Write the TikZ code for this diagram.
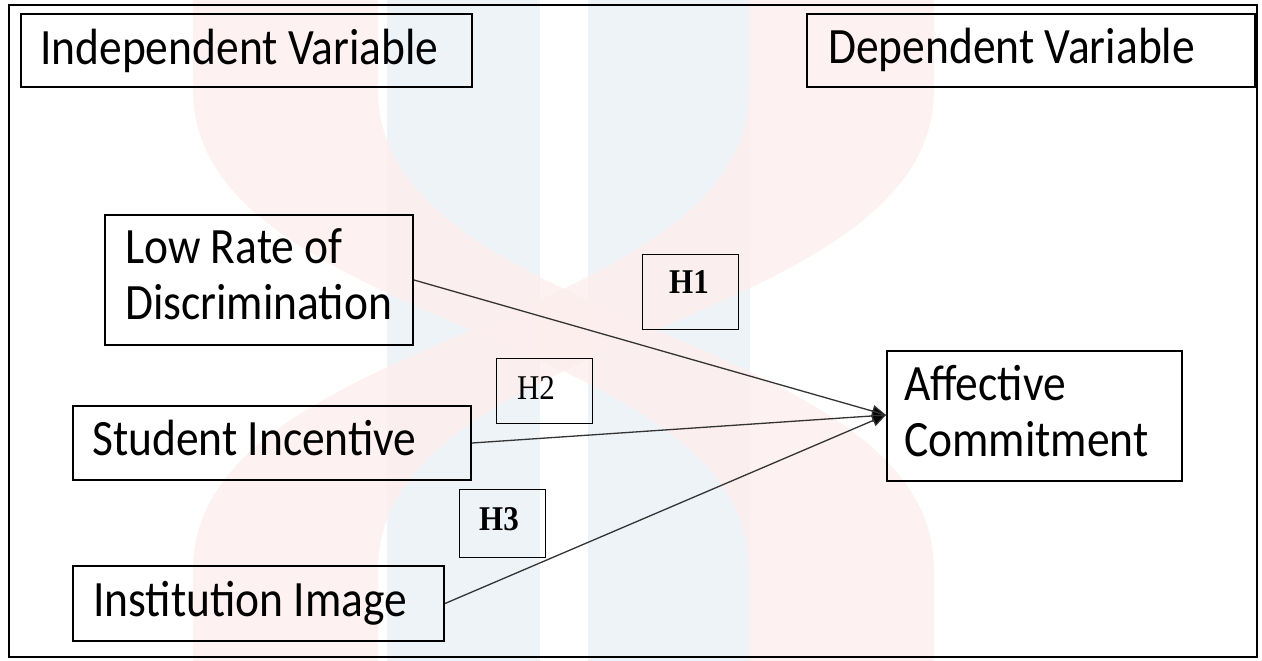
\documentclass[tikz,border=0pt]{standalone}
\usepackage{graphicx}
\usepackage{fontspec}
\setmainfont{Carlito}
\newfontfamily\timesfont{Liberation Serif}
\usetikzlibrary{arrows.meta}
\definecolor{wmpink}{HTML}{FDEEEE}
\definecolor{wmblue}{HTML}{EEF3F8}
\newcommand{\tallt}[1]{\scalebox{1}[1.12]{#1}}
\begin{document}
\begin{tikzpicture}[x=1pt,y=-1pt,
  box/.style={draw=black,line width=2pt,inner sep=0pt,anchor=north west},
  hbox/.style={draw=black,line width=1.2pt,inner sep=0pt,anchor=north west},
  lbl/.style={anchor=base west,inner sep=0pt,font=\fontsize{45.5}{56}\selectfont},
  hlbl/.style={anchor=base,inner sep=0pt,font=\fontsize{31}{36}\selectfont\timesfont},
  link/.style={draw=black!80,line width=1.3pt,-{Triangle[length=14pt,width=12pt,fill=black]}}]
\useasboundingbox (0,0) rectangle (1262,661);
% faint watermark
\fill[wmblue] (387,0) rectangle (540,661);
\fill[wmblue] (588,0) rectangle (750,661);
\fill[wmpink,fill opacity=0.85] (193,-5) -- (193,90) .. controls (193,330) and (749,330) .. (749,570) -- (749,666) -- (934,666) -- (934,570) .. controls (934,330) and (378,330) .. (378,90) -- (378,-5) -- cycle;
\fill[wmpink,fill opacity=0.85] (934,-5) -- (934,90) .. controls (934,330) and (378,330) .. (378,570) -- (378,666) -- (193,666) -- (193,570) .. controls (193,330) and (749,330) .. (749,90) -- (749,-5) -- cycle;
% frame
\draw[line width=2.5pt] (9,5) rectangle (1257,657);
% boxes
\node[box,minimum width=451pt,minimum height=73pt] (indep) at (20,13) {};
\node[box,minimum width=448pt,minimum height=73pt] (dep) at (806,13) {};
\node[box,minimum width=308pt,minimum height=130pt] (low) at (104,214) {};
\node[box,minimum width=398pt,minimum height=74pt] (stud) at (72,405) {};
\node[box,minimum width=371pt,minimum height=75pt] (inst) at (72,565) {};
\node[box,minimum width=295pt,minimum height=130pt] (aff) at (886,350) {};
\node[hbox,minimum width=96pt,minimum height=75pt] (h1) at (642,254) {};
\node[hbox,minimum width=96pt,minimum height=65pt] (h2) at (496,358) {};
\node[hbox,minimum width=86pt,minimum height=68pt] (h3) at (459,489) {};
% texts
\node[lbl] (tindep) at (40,65) {\tallt{Independent Variable}};
\node[lbl] (tdep) at (828,64) {\tallt{Dependent Variable}};
\node[lbl] (tlow1) at (125,263) {\tallt{Low Rate of}};
\node[lbl] (tlow2) at (125,319) {\tallt{Discrimination}};
\node[lbl] (tstud) at (92,455) {\tallt{Student Incentive}};
\node[lbl] (tinst) at (93,616) {\tallt{Institution Image}};
\node[lbl] (taff1) at (904,400) {\tallt{Affective}};
\node[lbl] (taff2) at (904,456) {\tallt{Commitment}};
\node[hlbl,font=\fontsize{31}{36}\selectfont\timesfont\bfseries] (th1) at (689,293) {\tallt{H1}};
\node[hlbl] (th2) at (536,399) {\tallt{H2}};
\node[hlbl,font=\fontsize{31}{36}\selectfont\timesfont\bfseries] (th3) at (499,530) {\tallt{H3}};
% connectors
\coordinate (tip) at ([yshift=1pt]aff.west);
\draw[link] (low.east) -- (tip);
\draw[link] (stud.east) -- (tip);
\draw[link] (inst.east) -- (tip);
\end{tikzpicture}
\end{document}
